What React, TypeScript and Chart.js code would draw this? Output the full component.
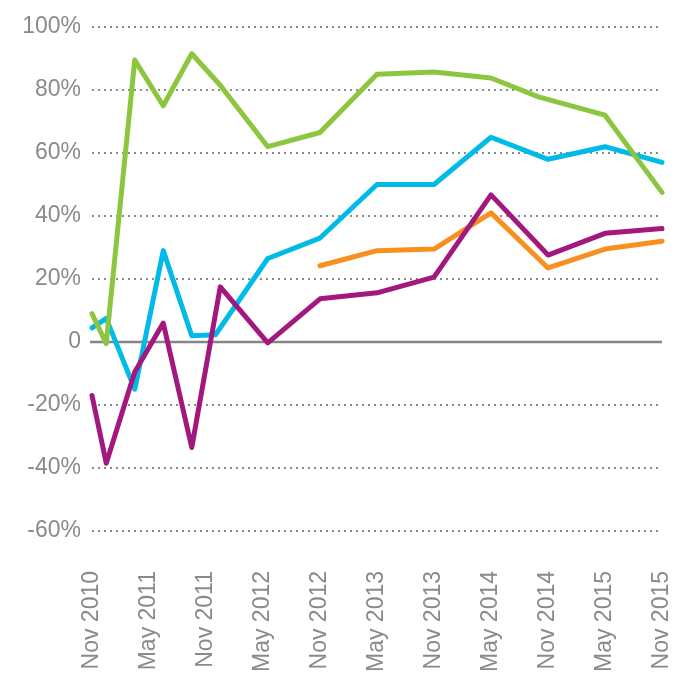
import React, { useEffect, useRef } from "react";
import { Chart, registerables } from "chart.js";

Chart.register(...registerables);

// X tick labels every 6 months starting Nov 2010 (x value = months since Nov 2010)
const xTickLabels = [
  "Nov 2010", "May 2011", "Nov 2011", "May 2012", "Nov 2012", "May 2013",
  "Nov 2013", "May 2014", "Nov 2014", "May 2015", "Nov 2015",
];

const greenMonths = [0, 1.5, 4.5, 7.5, 10.5, 13.5, 18.5, 24, 30, 36, 42, 47, 54, 60];
const greenValues = [9, -0.5, 89.5, 75, 91.5, 81.5, 62, 66.5, 85, 85.7, 83.8, 77.8, 72, 47.5];

const cyanMonths = [0, 1.5, 4.5, 7.5, 10.5, 13, 18.5, 24, 30, 36, 42, 48, 54, 60];
const cyanValues = [4.5, 7.5, -15, 29, 2, 2.3, 26.5, 33, 50, 50, 65, 58, 62, 57];

const magentaMonths = [0, 1.5, 4.5, 7.5, 10.5, 13.5, 18.5, 24, 30, 36, 42, 48, 54, 60];
const magentaValues = [-17, -38.5, -9.5, 6, -33.5, 17.5, -0.3, 13.7, 15.6, 20.6, 46.7, 27.6, 34.5, 36];

const orangeMonths = [24, 30, 36, 42, 48, 54, 60];
const orangeValues = [24.2, 29, 29.5, 41, 23.5, 29.5, 32];

const toPoints = (xs: number[], ys: number[]) => xs.map((x, i) => ({ x, y: ys[i] }));

const GREY = "#8a8a8a";
const FONT = "'Liberation Sans', Arial, sans-serif";

const zeroLinePlugin = {
  id: "zeroLine",
  beforeDatasetsDraw(chart: any) {
    const { ctx, chartArea, scales } = chart;
    const y = scales.y.getPixelForValue(0);
    ctx.save();
    ctx.strokeStyle = "#858585";
    ctx.lineWidth = 2.5;
    ctx.setLineDash([]);
    ctx.beginPath();
    ctx.moveTo(chartArea.left - 2, y);
    ctx.lineTo(chartArea.right, y);
    ctx.stroke();
    ctx.restore();
  },
};

export default function App() {
  const canvasRef = useRef<HTMLCanvasElement | null>(null);

  useEffect(() => {
    if (!canvasRef.current) return;
    const lineCommon = {
      borderWidth: 5,
      pointRadius: 0,
      pointHoverRadius: 0,
      tension: 0,
      fill: false,
      clip: false as const,
      borderCapStyle: "round" as const,
      borderJoinStyle: "round" as const,
    };
    const chart = new Chart(canvasRef.current, {
      type: "line",
      data: {
        datasets: [
          { ...lineCommon, label: "Green", data: toPoints(greenMonths, greenValues), borderColor: "#8cc63f" },
          { ...lineCommon, label: "Magenta", data: toPoints(magentaMonths, magentaValues), borderColor: "#a3187f" },
          { ...lineCommon, label: "Orange", data: toPoints(orangeMonths, orangeValues), borderColor: "#f7901e" },
          { ...lineCommon, label: "Cyan", data: toPoints(cyanMonths, cyanValues), borderColor: "#00bbe8" },
        ],
      },
      options: {
        animation: false,
        responsive: true,
        maintainAspectRatio: false,
        layout: { padding: { top: 27, right: 29, left: 0, bottom: 0 } },
        plugins: { legend: { display: false }, tooltip: { enabled: false } },
        scales: {
          x: {
            type: "linear",
            min: 0,
            max: 60,
            grid: { display: false, drawTicks: false },
            border: { display: false },
            afterFit: (scale: any) => {
              scale.height = 145;
              scale.paddingLeft = 0;
              scale.paddingRight = 0;
            },
            ticks: {
              stepSize: 6,
              autoSkip: false,
              minRotation: 90,
              maxRotation: 90,
              padding: 40,
              color: GREY,
              font: { family: FONT, size: 23 },
              callback: (v: any) => {
                const i = Math.round(Number(v) / 6);
                return xTickLabels[i] ?? "";
              },
            },
          },
          y: {
            min: -60,
            max: 100,
            grid: {
              drawTicks: false,
              lineWidth: 2,
              color: (ctx: any) => (ctx.tick && ctx.tick.value === 0 ? "rgba(0,0,0,0)" : GREY),
            },
            border: { display: false, dash: [2, 4] },
            afterFit: (scale: any) => {
              scale.width = 92;
              scale.paddingTop = 0;
              scale.paddingBottom = 0;
            },
            ticks: {
              stepSize: 20,
              padding: 11,
              color: GREY,
              font: { family: FONT, size: 23 },
              callback: (v: any) => (Number(v) === 0 ? "0" : v + "%"),
            },
          },
        },
      },
      plugins: [zeroLinePlugin],
    });
    return () => chart.destroy();
  }, []);

  return (
    <div style={{ position: "fixed", left: 0, top: 0, width: 691, height: 676, background: "#fff" }}>
      <canvas ref={canvasRef} />
    </div>
  );
}
